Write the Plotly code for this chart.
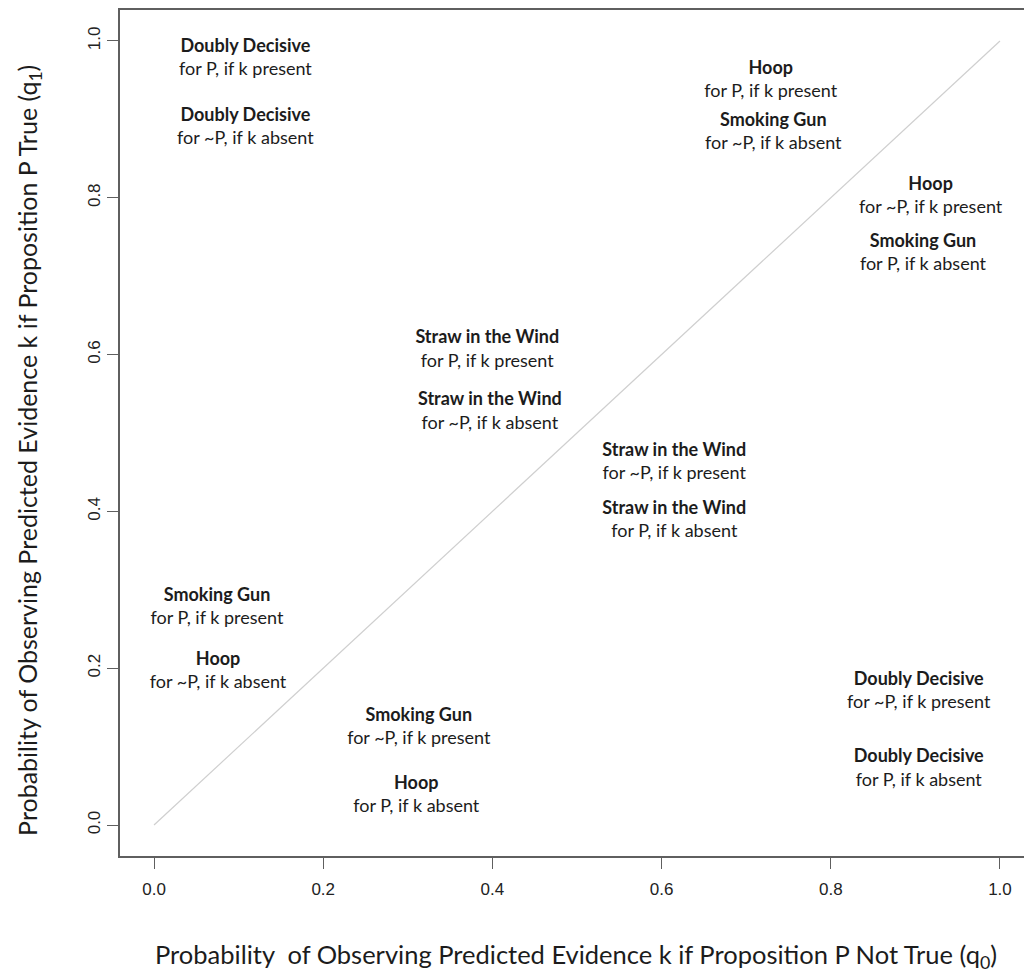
import plotly.graph_objects as go

# Label data
titles = ["Doubly Decisive", "Doubly Decisive", "Hoop", "Smoking Gun", "Hoop", "Smoking Gun",
          "Straw in the Wind", "Straw in the Wind", "Straw in the Wind", "Straw in the Wind",
          "Smoking Gun", "Hoop", "Smoking Gun", "Hoop", "Doubly Decisive", "Doubly Decisive"]
subtitles = ["for P, if k present", "for ~P, if k absent", "for P, if k present", "for ~P, if k absent",
             "for ~P, if k present", "for P, if k absent", "for P, if k present", "for ~P, if k absent",
             "for ~P, if k present", "for P, if k absent", "for P, if k present", "for ~P, if k absent",
             "for ~P, if k present", "for P, if k absent", "for ~P, if k present", "for P, if k absent"]
q0 = [0.108, 0.108, 0.729, 0.732, 0.918, 0.909, 0.394, 0.397, 0.615, 0.615,
      0.0745, 0.0757, 0.313, 0.310, 0.904, 0.904]
q1 = [0.977, 0.889, 0.949, 0.883, 0.801, 0.728, 0.605, 0.526, 0.462, 0.388,
      0.277, 0.195, 0.124, 0.037, 0.170, 0.071]

diag_x = [0, 1]
diag_y = [0, 1]
tick_vals = [0.0, 0.2, 0.4, 0.6, 0.8, 1.0]
tick_text = ["0.0", "0.2", "0.4", "0.6", "0.8", "1.0"]

label_font = "Lato, 'Open Sans', sans-serif"
tick_font = "'Liberation Sans', Arial, sans-serif"

fig = go.Figure()
fig.add_trace(go.Scatter(x=diag_x, y=diag_y, mode="lines",
                         line=dict(color="#cfcfcf", width=1.2), hoverinfo="skip"))
fig.add_trace(go.Scatter(
    x=q0, y=q1, mode="text",
    text=[f"<b>{t}</b><br>{s}" for t, s in zip(titles, subtitles)],
    textposition="middle center",
    textfont=dict(family=label_font, size=18, color="#1c1c1c"),
    hoverinfo="skip"))

fig.update_layout(
    width=1024, height=974,
    margin=dict(l=120, r=0, t=10, b=118),
    plot_bgcolor="white", paper_bgcolor="white",
    showlegend=False,
    xaxis=dict(range=[-0.0402, 1.0284], tickvals=tick_vals, ticktext=tick_text,
               showgrid=False, zeroline=False, showline=True, mirror=True,
               linecolor="#5f5f5f", linewidth=2, ticks="outside", ticklen=11,
               tickcolor="#5f5f5f", tickwidth=1, ticklabelstandoff=6,
               tickfont=dict(family=tick_font, size=17, color="#222222")),
    yaxis=dict(range=[-0.0395, 1.0395], tickvals=tick_vals, ticktext=tick_text,
               showgrid=False, zeroline=False, showline=True, mirror=False,
               linecolor="#5f5f5f", linewidth=2, ticks="outside", ticklen=11,
               tickcolor="#5f5f5f", tickwidth=1, tickangle=-90,
               tickfont=dict(family=tick_font, size=17, color="#222222")),
    annotations=[
        dict(text="Probability  of Observing Predicted Evidence k if Proposition P Not True (q<sub>0</sub>)",
             xref="paper", yref="paper", x=0.5045, y=-0.118, xanchor="center", yanchor="middle",
             showarrow=False, font=dict(family=label_font, size=25.5, color="#1c1c1c")),
        dict(text="Probability of Observing Predicted Evidence k if Proposition P True (q<sub>1</sub>)",
             xref="paper", yref="paper", x=-0.1007, y=0.48, xanchor="center", yanchor="middle",
             textangle=-90, showarrow=False,
             font=dict(family=label_font, size=25, color="#1c1c1c")),
    ],
)

fig.write_html("out.html", config={"displayModeBar": False},
               post_script="document.body.style.margin='0';document.body.style.overflow='hidden';")
